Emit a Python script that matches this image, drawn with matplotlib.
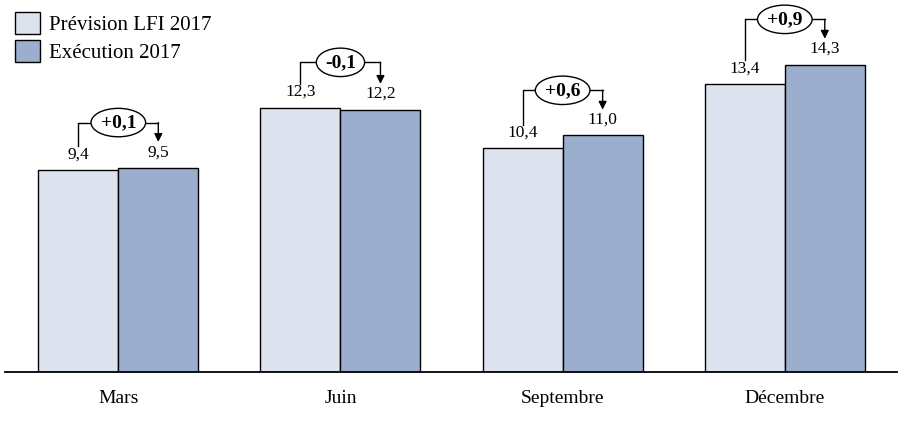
import numpy as np
import matplotlib; matplotlib.use("Agg")
import matplotlib.pyplot as plt
from matplotlib.patches import Patch

mois = ["Mars", "Juin", "Septembre", "Décembre"]
prevision = [9.4, 12.3, 10.4, 13.4]
execution = [9.5, 12.2, 11.0, 14.3]
series = ["Prévision LFI 2017", "Exécution 2017"]

C_LIGHT, C_DARK = "#dde3ee", "#9baece"
plt.rcParams['font.family'] = ['Liberation Serif', 'DejaVu Serif']

fig = plt.figure(figsize=(8.99, 4.32), dpi=100)
ax = fig.add_axes([5/899, 60/432, 892/899, 372/432])
x = np.arange(len(mois)); w = 0.36
ax.bar(x - w, prevision, w, align='edge', color=C_LIGHT, edgecolor='black', lw=1)
ax.bar(x, execution, w, align='edge', color=C_DARK, edgecolor='black', lw=1)
ax.set_xlim(-0.51, 3.505); ax.set_ylim(0, 17.3)

fmt = lambda v: f"{v:.1f}".replace(".", ",")
for i in range(len(mois)):
    a, b = prevision[i], execution[i]
    xa, xb = i - w/2, i + w/2
    ax.text(xa, a + 0.35, fmt(a), ha='center', va='bottom', fontsize=12.5)
    ax.text(xb, b + 0.35, fmt(b), ha='center', va='bottom', fontsize=12.5)
    yb = max(a, b) + 2.1
    ax.plot([xa, xa, xb], [a + 1.1, yb, yb], color='black', lw=1)
    ax.annotate("", xy=(xb, b + 1.2), xytext=(xb, yb),
                arrowprops=dict(arrowstyle='-|>', color='black', lw=1,
                                shrinkA=0, shrinkB=0, mutation_scale=12))
    d = b - a
    lab = ("+" if d >= 0 else "-") + fmt(abs(d))
    ax.text(i, yb, lab, ha='center', va='center', fontsize=14, fontweight='bold',
            bbox=dict(boxstyle='ellipse,pad=0.08', fc='white', ec='black', lw=1))

for s in ('top', 'right', 'left'):
    ax.spines[s].set_visible(False)
ax.spines['bottom'].set_linewidth(1.3)
ax.set_yticks([])
ax.set_xticks(x)
ax.set_xticklabels(mois, fontsize=14)
ax.tick_params(axis='x', length=0, pad=13)

handles = [Patch(fc=C_LIGHT, ec='black'), Patch(fc=C_DARK, ec='black')]
fig.legend(handles, series, loc='upper left', bbox_to_anchor=(0.0, 1.005), frameon=False,
           fontsize=15, handlelength=1.2, handleheight=1.25, handletextpad=0.45,
           labelspacing=0.2, borderaxespad=0.3)
fig.savefig("out.png", dpi=100)
